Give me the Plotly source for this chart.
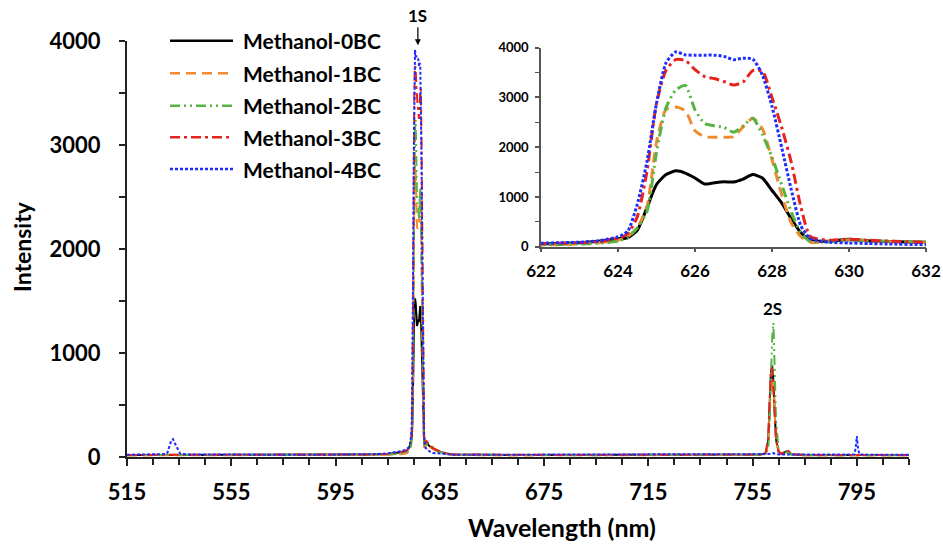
import plotly.graph_objects as go

W, H = 943, 546
FONT = "Lato"

# Wavelength grid (nm): baseline, 1S band (622-632), then the 2S band and the far red
wavelength = [
    515, 520, 525, 530, 530.5, 531.3, 532, 532.6, 533.2, 534, 534.8, 535.5,
    540, 550, 560, 570, 580, 590, 600, 610, 615, 618, 620,
    622, 622.5, 623, 623.5, 624, 624.25, 624.5, 624.75, 625, 625.25, 625.5,
    625.75, 626, 626.25, 626.5, 626.75, 627, 627.25, 627.5, 627.75, 628,
    628.25, 628.5, 628.75, 629, 629.5, 630, 630.5, 631, 632,
    634, 637, 640, 660, 680, 700, 720, 740, 750, 755, 758, 760, 761, 761.5,
    762, 762.5, 763, 763.5, 764, 765, 766, 767, 768, 769, 770, 775, 780,
    790, 794, 794.5, 795, 795.5, 796, 800, 805, 810, 815,
]

series_names = ["Methanol-0BC", "Methanol-1BC", "Methanol-2BC",
                "Methanol-3BC", "Methanol-4BC"]

intensity_0bc = [
    20, 20, 20, 22, 22, 22, 22, 22, 22, 22, 22, 22,
    20, 20, 20, 20, 20, 20, 22, 25, 28, 35, 45,
    55, 65, 80, 110, 160, 180, 330, 780, 1250, 1450, 1525,
    1480, 1380, 1260, 1285, 1305, 1300, 1360, 1450, 1380, 1130,
    880, 560, 280, 130, 110, 150, 120, 105, 90,
    60, 35, 25, 20, 20, 20, 20, 20, 20, 22, 25, 35, 160, 480,
    800, 880, 720, 420, 170, 50, 30, 40, 55, 45, 25, 20, 20,
    20, 20, 20, 22, 20, 20, 20, 20, 20, 20,
]
intensity_1bc = [
    15, 15, 15, 18, 18, 18, 18, 18, 18, 18, 18, 18,
    15, 15, 15, 15, 15, 15, 18, 20, 22, 25, 28,
    30, 40, 60, 80, 130, 200, 380, 800, 2100, 2760, 2810,
    2730, 2330, 2210, 2200, 2200, 2210, 2410, 2580, 2370, 1750,
    1050, 480, 200, 90, 100, 140, 120, 100, 80,
    55, 30, 20, 15, 15, 15, 15, 15, 15, 18, 20, 30, 130, 420,
    740, 830, 690, 400, 160, 45, 28, 35, 45, 40, 22, 15, 15,
    15, 15, 15, 18, 15, 15, 15, 15, 15, 15,
]
intensity_2bc = [
    18, 18, 18, 20, 20, 20, 20, 20, 20, 20, 20, 20,
    18, 18, 18, 18, 18, 18, 20, 22, 25, 30, 35,
    40, 45, 55, 70, 110, 180, 380, 700, 1900, 2800, 3150,
    3240, 2750, 2480, 2430, 2400, 2300, 2430, 2580, 2250, 1800,
    1250, 700, 280, 100, 100, 120, 115, 110, 100,
    60, 35, 22, 18, 18, 18, 18, 18, 18, 20, 22, 30, 80, 300,
    700, 1150, 1290, 900, 350, 60, 30, 35, 45, 40, 22, 18, 18,
    18, 18, 18, 20, 18, 18, 18, 18, 18, 18,
]
intensity_3bc = [
    20, 20, 20, 20, 22, 22, 22, 22, 22, 22, 22, 22,
    20, 20, 20, 20, 20, 20, 22, 25, 30, 38, 48,
    60, 70, 80, 100, 170, 260, 600, 1500, 2880, 3550, 3760,
    3740, 3560, 3420, 3380, 3320, 3250, 3310, 3540, 3530, 3000,
    2400, 1700, 800, 200, 130, 150, 130, 115, 90,
    65, 38, 25, 20, 20, 20, 20, 20, 20, 22, 25, 40, 180, 520,
    820, 860, 680, 400, 160, 50, 30, 45, 65, 55, 28, 20, 20,
    20, 20, 20, 22, 20, 20, 20, 20, 20, 20,
]
intensity_4bc = [
    22, 22, 24, 28, 40, 95, 160, 172, 135, 100, 60, 30,
    24, 22, 22, 22, 22, 22, 24, 28, 35, 45, 55,
    70, 80, 90, 120, 200, 310, 850, 1700, 2880, 3700, 3915,
    3855, 3850, 3850, 3850, 3825, 3760, 3790, 3770, 3450, 2820,
    2000, 1150, 420, 160, 90, 75, 65, 55, 40,
    35, 25, 22, 22, 22, 22, 22, 22, 22, 24, 25, 25, 28, 30,
    35, 40, 38, 32, 28, 25, 24, 24, 25, 24, 24, 22, 22,
    22, 24, 80, 200, 70, 25, 22, 22, 22, 22,
]

main_ticks = [515, 555, 595, 635, 675, 715, 755, 795]
intensity_ticks = [0, 1000, 2000, 3000, 4000]
inset_ticks = [622, 624, 626, 628, 630, 632]

colors = ["#000000", "#F08C30", "#55B444", "#E8231E", "#1E2CFF"]
dashes = ["solid", "10px,6px", "10px,4px,2px,4px,2px,4px",
          "10px,4px,3px,4px", "3px,2px"]

all_series = [intensity_0bc, intensity_1bc, intensity_2bc,
              intensity_3bc, intensity_4bc]
for s in all_series:
    assert len(s) == len(wavelength)


def px_x(px):
    return px / W


def px_y(py):
    return 1 - py / H


fig = go.Figure()

# full spectrum
for name, vals, color, dash in zip(series_names, all_series, colors, dashes):
    fig.add_trace(go.Scatter(
        x=wavelength, y=vals, mode="lines", name=name, showlegend=False,
        line=dict(color=color, width=2, dash=dash),
        xaxis="x", yaxis="y",
    ))

# zoom on the 1S band
for name, vals, color, dash in zip(series_names, all_series, colors, dashes):
    fig.add_trace(go.Scatter(
        x=wavelength, y=vals, mode="lines", name=name, showlegend=False,
        line=dict(color=color, width=3, dash=dash, shape="spline",
                  smoothing=0.6),
        xaxis="x2", yaxis="y2",
    ))

axis_color = "#222222"
bold = dict(family=FONT, color="black", weight="bold")

fig.update_layout(
    width=W, height=H,
    margin=dict(l=0, r=0, t=0, b=0, autoexpand=False),
    paper_bgcolor="white", plot_bgcolor="white",
    showlegend=False,
    xaxis=dict(
        domain=[px_x(127), px_x(909)], anchor="y", range=[515, 815],
        automargin=False,
        tickmode="array", tickvals=main_ticks,
        ticks="outside", ticklen=7, tickwidth=2, tickcolor=axis_color,
        minor=dict(tickmode="linear", tick0=515, dtick=10, ticks="outside",
                   ticklen=6, tickwidth=1.5, tickcolor=axis_color,
                   showgrid=False),
        showline=True, linecolor=axis_color, linewidth=2,
        showgrid=False, zeroline=False,
        tickfont=dict(size=22, **bold), ticklabelstandoff=8,
    ),
    yaxis=dict(
        domain=[px_y(457), px_y(41)], anchor="x", range=[0, 4000],
        automargin=False,
        tickmode="array", tickvals=intensity_ticks,
        ticks="outside", ticklen=6, tickwidth=2, tickcolor=axis_color,
        minor=dict(tickmode="linear", tick0=0, dtick=500, ticks="outside",
                   ticklen=6, tickwidth=1.5, tickcolor=axis_color,
                   showgrid=False),
        showline=True, linecolor=axis_color, linewidth=2,
        showgrid=False, zeroline=False,
        tickfont=dict(size=22, **bold), ticklabelstandoff=14,
    ),
    xaxis2=dict(
        domain=[px_x(541), px_x(926)], anchor="y2", range=[622, 632],
        automargin=False,
        tickmode="array", tickvals=inset_ticks,
        ticks="outside", ticklen=4, tickwidth=1.5, tickcolor="#555555",
        showline=True, linecolor="#555555", linewidth=1.5,
        showgrid=False, zeroline=False,
        tickfont=dict(size=17, **bold), ticklabelstandoff=4,
    ),
    yaxis2=dict(
        domain=[px_y(246.7), px_y(47.7)], anchor="x2", range=[0, 4000],
        automargin=False,
        tickmode="array", tickvals=intensity_ticks,
        ticks="outside", ticklen=4, tickwidth=1.5, tickcolor="#555555",
        minor=dict(tickmode="linear", tick0=0, dtick=500, ticks="outside",
                   ticklen=4, tickwidth=1, tickcolor="#555555",
                   showgrid=False),
        showline=True, linecolor="#555555", linewidth=1.5,
        showgrid=False, zeroline=False,
        tickfont=dict(size=13, **bold), ticklabelstandoff=4,
    ),
)

annotations = [
    # axis titles
    dict(text="Intensity", x=px_x(22), y=px_y(247), xref="paper",
         yref="paper", textangle=-90, showarrow=False,
         xanchor="center", yanchor="middle", font=dict(size=23, **bold)),
    dict(text="Wavelength (nm)", x=px_x(562), y=px_y(527), xref="paper",
         yref="paper", showarrow=False, xanchor="center", yanchor="middle",
         font=dict(size=25, **bold)),
    # peak labels
    dict(text="1S", x=626.6, y=3960, xref="x", yref="y", showarrow=True,
         ax=0, ay=-30, arrowhead=2, arrowsize=1, arrowwidth=1.2,
         arrowcolor="black", font=dict(size=17, **bold)),
    dict(text="2S", x=762.5, y=1430, xref="x", yref="y", showarrow=False,
         font=dict(size=17, **bold)),
]

# legend drawn as line samples with labels
legend_rows = [40.7, 73.3, 105.7, 137.3, 169.0]
shapes = []
for name, color, dash, row in zip(series_names, colors, dashes, legend_rows):
    shapes.append(dict(
        type="line", xref="paper", yref="paper",
        x0=px_x(170), x1=px_x(233), y0=px_y(row), y1=px_y(row),
        line=dict(color=color, width=2.5, dash=dash),
    ))
    annotations.append(dict(
        text=name, x=px_x(241), y=px_y(row), xref="paper", yref="paper",
        showarrow=False, xanchor="left", yanchor="middle",
        font=dict(size=21, **bold),
    ))

fig.update_layout(annotations=annotations, shapes=shapes)

fig.write_html("out.html")
